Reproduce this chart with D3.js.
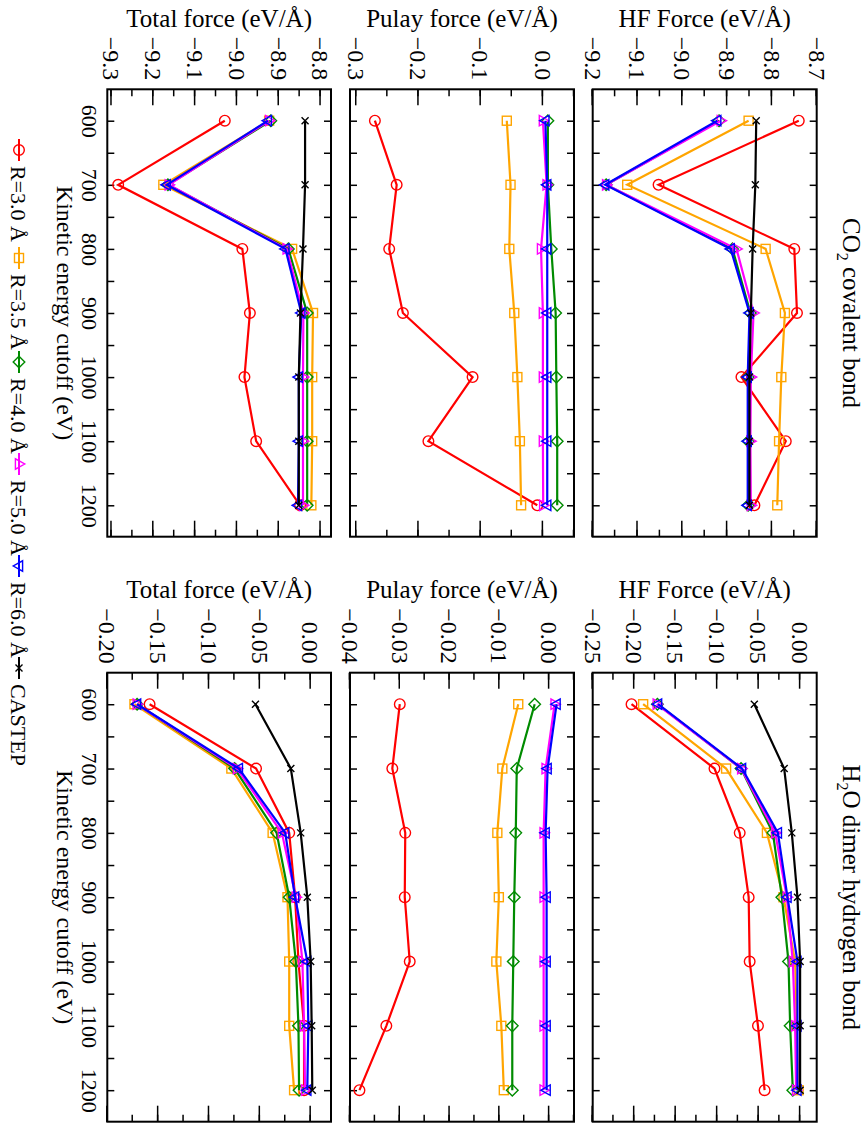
<!DOCTYPE html>
<html>
<head>
<meta charset="utf-8">
<script src="https://cdn.jsdelivr.net/npm/d3@7"></script>
<style>
  html, body { margin: 0; padding: 0; background: #fff; }
</style>
</head>
<body>
<svg id="chart" width="866" height="1124" style="font-family: 'Liberation Serif', serif;"></svg>
<script>
// kinetic energy cutoffs (eV)
var energies = [600, 700, 800, 900, 1000, 1100, 1200];
var energyTickLabels = [600, 700, 800, 900, 1000, 1100, 1200];

var seriesNames = ["R=3.0 \u00c5", "R=3.5 \u00c5", "R=4.0 \u00c5", "R=5.0 \u00c5", "R=6.0 \u00c5", "CASTEP"];
var seriesColors = ["#ff0000", "#ffa500", "#008b00", "#ff00ff", "#0000ff", "#000000"];
var seriesSymbols = ["circle", "square", "diamond", "triUp", "triDown", "cross"];

// CO2 covalent bond
var co2HfR30 = [-8.740, -9.053, -8.750, -8.744, -8.868, -8.769, -8.839];
var co2HfR35 = [-8.852, -9.123, -8.814, -8.771, -8.779, -8.784, -8.788];
var co2HfR40 = [-8.918, -9.170, -8.888, -8.848, -8.853, -8.853, -8.853];
var co2HfR50 = [-8.914, -9.170, -8.879, -8.841, -8.847, -8.848, -8.847];
var co2HfR60 = [-8.922, -9.172, -8.892, -8.850, -8.854, -8.854, -8.854];
var co2HfCastep = [-8.835, -8.837, -8.843, -8.847, -8.850, -8.850, -8.850];

var co2PulayR30 = [-0.270, -0.235, -0.247, -0.225, -0.113, -0.184, -0.009];
var co2PulayR35 = [-0.058, -0.052, -0.054, -0.046, -0.041, -0.037, -0.035];
var co2PulayR40 = [0.008, 0.008, 0.0135, 0.0205, 0.0216, 0.023, 0.023];
var co2PulayR50 = [0.000, 0.006, -0.003, 0.000, 0.000, 0.000, 0.0005];
var co2PulayR60 = [0.004, 0.007, 0.007, 0.007, 0.007, 0.007, 0.007];

var co2TotalR30 = [-9.029, -9.284, -8.987, -8.969, -8.982, -8.954, -8.849];
var co2TotalR35 = [-8.923, -9.176, -8.868, -8.818, -8.820, -8.820, -8.822];
var co2TotalR40 = [-8.919, -9.165, -8.877, -8.832, -8.832, -8.832, -8.832];
var co2TotalR50 = [-8.923, -9.163, -8.881, -8.841, -8.842, -8.842, -8.842];
var co2TotalR60 = [-8.926, -9.168, -8.884, -8.846, -8.852, -8.852, -8.854];
var co2TotalCastep = [-8.837, -8.837, -8.842, -8.848, -8.852, -8.852, -8.852];

// H2O dimer hydrogen bond
var h2oHfR30 = [-0.2032, -0.1032, -0.0728, -0.0620, -0.0608, -0.0508, -0.0428];
var h2oHfR35 = [-0.1892, -0.0892, -0.0400, -0.0200, -0.0060, -0.0040, -0.0018];
var h2oHfR40 = [-0.1720, -0.0712, -0.0328, -0.0220, -0.0140, -0.0120, -0.0088];
var h2oHfR50 = [-0.1728, -0.0710, -0.0300, -0.0160, -0.0088, -0.0060, -0.0048];
var h2oHfR60 = [-0.1712, -0.0700, -0.0268, -0.0152, -0.0032, -0.0032, -0.0032];
var h2oHfCastep = [-0.0552, -0.0192, -0.0100, -0.0032, 0.0000, 0.0000, 0.0000];

var h2oPulayR30 = [-0.0300, -0.0315, -0.0289, -0.0290, -0.0280, -0.0327, -0.0381];
var h2oPulayR35 = [-0.0062, -0.0094, -0.0104, -0.0101, -0.0106, -0.0096, -0.0091];
var h2oPulayR40 = [-0.0029, -0.0065, -0.0067, -0.0070, -0.0072, -0.0074, -0.0074];
var h2oPulayR50 = [0.0011, -0.0007, -0.0011, -0.0011, -0.0011, -0.0011, -0.0011];
var h2oPulayR60 = [0.0015, -0.0003, -0.0007, -0.0005, -0.0005, -0.0005, -0.0005];

var h2oTotalR30 = [-0.1584, -0.0537, -0.0211, -0.0153, -0.0120, -0.0065, -0.0065];
var h2oTotalR35 = [-0.1733, -0.0780, -0.0374, -0.0228, -0.0211, -0.0211, -0.0163];
var h2oTotalR40 = [-0.1707, -0.0748, -0.0335, -0.0211, -0.0146, -0.0120, -0.0114];
var h2oTotalR50 = [-0.1710, -0.0725, -0.0283, -0.0146, -0.0081, -0.0065, -0.0055];
var h2oTotalR60 = [-0.1707, -0.0706, -0.0250, -0.0153, -0.0033, -0.0023, -0.0033];
var h2oTotalCastep = [-0.0543, -0.0195, -0.0098, -0.0033, 0.0000, 0.0010, 0.0016];

// force axis tick labels
var co2HfTicks = [-9.2, -9.1, -9.0, -8.9, -8.8, -8.7];
var co2PulayTicks = [-0.3, -0.2, -0.1, 0.0];
var co2TotalTicks = [-9.3, -9.2, -9.1, -9.0, -8.9, -8.8];
var h2oHfTicks = [-0.25, -0.20, -0.15, -0.10, -0.05, 0.00];
var h2oPulayTicks = [-0.04, -0.03, -0.02, -0.01, 0.00];
var h2oTotalTicks = [-0.20, -0.15, -0.10, -0.05, 0.00];

// ---------------------------------------------------------------
// The figure is drawn in its own (landscape) frame and then turned
// 90 degrees clockwise onto the page.
var FONT = "'Liberation Serif', 'Times New Roman', serif";
var svg = d3.select("#chart");
var fig = svg.append("g").attr("transform", "translate(866,0) rotate(90)");

var columns = [
    { u0: 89.3, u1: 536.7, title: "CO", sub: "2", rest: " covalent bond", titleOffset: 62 },
    { u0: 672.7, u1: 1121.7, title: "H", sub: "2", rest: "O dimer hydrogen bond", titleOffset: 75 }
];
var rows = [
    { v0: 49.3, v1: 273.3, label: "HF Force (eV/\u00c5)" },
    { v0: 292, v1: 516, label: "Pulay force (eV/\u00c5)" },
    { v0: 535, v1: 758.7, label: "Total force (eV/\u00c5)" }
];

var panels = [
    { col: 0, row: 0, domain: [-9.2, -8.7], ticks: co2HfTicks, minor: 0.05, fmt: ".1f",
      series: [co2HfR30, co2HfR35, co2HfR40, co2HfR50, co2HfR60, co2HfCastep] },
    { col: 0, row: 1, domain: [-0.31, 0.05], ticks: co2PulayTicks, minor: 0.05, fmt: ".1f",
      series: [co2PulayR30, co2PulayR35, co2PulayR40, co2PulayR50, co2PulayR60, null] },
    { col: 0, row: 2, domain: [-9.31, -8.775], ticks: co2TotalTicks, minor: 0.05, fmt: ".1f",
      series: [co2TotalR30, co2TotalR35, co2TotalR40, co2TotalR50, co2TotalR60, co2TotalCastep] },
    { col: 1, row: 0, domain: [-0.25, 0.02], ticks: h2oHfTicks, minor: 0.025, fmt: ".2f",
      series: [h2oHfR30, h2oHfR35, h2oHfR40, h2oHfR50, h2oHfR60, h2oHfCastep] },
    { col: 1, row: 1, domain: [-0.04, 0.005], ticks: h2oPulayTicks, minor: 0.005, fmt: ".2f",
      series: [h2oPulayR30, h2oPulayR35, h2oPulayR40, h2oPulayR50, h2oPulayR60, null] },
    { col: 1, row: 2, domain: [-0.2, 0.02], ticks: h2oTotalTicks, minor: 0.025, fmt: ".2f",
      series: [h2oTotalR30, h2oTotalR35, h2oTotalR40, h2oTotalR50, h2oTotalR60, h2oTotalCastep] }
];

var energyDomain = [551, 1249];
var energyMinor = d3.range(600, 1201, 50);

// draw one marker centred on 0,0
function drawSymbol(sel, type, color) {
    var s;
    switch (type) {
        case "circle":
            s = sel.append("circle").attr("r", 5.3);
            break;
        case "square":
            s = sel.append("rect").attr("x", -4.5).attr("y", -4.5).attr("width", 9).attr("height", 9);
            break;
        case "diamond":
            s = sel.append("path").attr("d", "M0,-5.8L5.8,0L0,5.8L-5.8,0Z");
            break;
        case "triUp":
            s = sel.append("path").attr("d", "M0,-5.8L5.2,3.6L-5.2,3.6Z");
            break;
        case "triDown":
            s = sel.append("path").attr("d", "M0,5.8L5.2,-3.6L-5.2,-3.6Z");
            break;
        case "cross":
            s = sel.append("path").attr("d", "M-3.5,-3.5L3.5,3.5M-3.5,3.5L3.5,-3.5");
            break;
    }
    s.attr("fill", "none").attr("stroke", color).attr("stroke-width", 1.4);
}

function styleAxis(a) {
    a.select(".domain").remove();
    a.selectAll("line").attr("stroke", "#000").attr("stroke-width", 1.5);
    a.attr("font-family", FONT).attr("font-size", null);
    a.selectAll("text").style("font-family", FONT).attr("fill", "#000");
}

function addText(sel) {
    return sel.append("text").style("font-family", FONT).attr("fill", "#000");
}

panels.forEach(function (p) {
    var col = columns[p.col], row = rows[p.row];
    var w = col.u1 - col.u0, h = row.v1 - row.v0;
    var x = d3.scaleLinear().domain(energyDomain).range([0, w]);
    var y = d3.scaleLinear().domain(p.domain).range([h, 0]);
    var minorTicks = d3.range(p.ticks[0], p.domain[1] + 1e-9, p.minor);

    var pg = fig.append("g").attr("transform", "translate(" + col.u0 + "," + row.v0 + ")");

    // force axis, minor then major ticks, both sides
    pg.append("g").call(d3.axisLeft(y).tickValues(minorTicks).tickSize(-7).tickSizeOuter(0).tickFormat(""))
        .call(styleAxis);
    pg.append("g").attr("transform", "translate(" + w + ",0)")
        .call(d3.axisRight(y).tickValues(minorTicks).tickSize(-7).tickSizeOuter(0).tickFormat(""))
        .call(styleAxis);
    pg.append("g")
        .call(d3.axisLeft(y).tickValues(p.ticks).tickSize(-16).tickSizeOuter(0).tickPadding(9)
            .tickFormat(d3.format(p.fmt)))
        .call(styleAxis)
        .selectAll("text").style("font-size", "24px");
    pg.append("g").attr("transform", "translate(" + w + ",0)")
        .call(d3.axisRight(y).tickValues(p.ticks).tickSize(-16).tickSizeOuter(0).tickFormat(""))
        .call(styleAxis);

    // energy axis
    var bottom = d3.axisBottom(x).tickValues(energyMinor).tickSize(-7).tickSizeOuter(0).tickPadding(10);
    if (p.row === 2) {
        bottom.tickFormat(function (d) { return energyTickLabels.indexOf(d) >= 0 ? d : ""; });
    } else {
        bottom.tickFormat("");
    }
    pg.append("g").attr("transform", "translate(0," + h + ")").call(bottom).call(styleAxis)
        .selectAll("text").style("font-size", "22px");
    pg.append("g").call(d3.axisTop(x).tickValues(energyMinor).tickSize(-7).tickSizeOuter(0).tickFormat(""))
        .call(styleAxis);

    pg.append("rect").attr("width", w).attr("height", h)
        .attr("fill", "none").attr("stroke", "#000").attr("stroke-width", 2);

    // force axis title
    addText(pg)
        .attr("transform", "translate(" + (-col.titleOffset) + "," + (h / 2) + ") rotate(-90)")
        .attr("text-anchor", "middle")
        .style("font-size", "25px")
        .text(row.label);

    // series
    var line = d3.line().x(function (d) { return x(d[0]); }).y(function (d) { return y(d[1]); });
    p.series.forEach(function (vals, i) {
        if (!vals) { return; }
        var pts = energies.map(function (e, k) { return [e, vals[k]]; });
        pg.append("path").datum(pts).attr("d", line)
            .attr("fill", "none").attr("stroke", seriesColors[i]).attr("stroke-width", 2.2);
        pts.forEach(function (d) {
            var m = pg.append("g").attr("transform", "translate(" + x(d[0]) + "," + y(d[1]) + ")");
            drawSymbol(m, seriesSymbols[i], seriesColors[i]);
        });
    });
});

// column titles and energy axis titles
columns.forEach(function (col) {
    var mid = (col.u0 + col.u1) / 2;
    var t = addText(fig).attr("x", mid).attr("y", 23)
        .attr("text-anchor", "middle").style("font-size", "25px");
    t.append("tspan").text(col.title);
    t.append("tspan").attr("dy", 6).style("font-size", "16px").text(col.sub);
    t.append("tspan").attr("dy", -6).text(col.rest);

    addText(fig).attr("x", mid).attr("y", 809)
        .attr("text-anchor", "middle").style("font-size", "24px")
        .text("Kinetic energy cutoff (eV)");
});

// legend (marker centres along the bottom edge)
var legendPos = [150, 258, 362, 464, 566, 668];
seriesNames.forEach(function (name, i) {
    var lg = fig.append("g").attr("transform", "translate(" + legendPos[i] + ",847)");
    lg.append("line").attr("x1", -11).attr("x2", 11).attr("stroke", seriesColors[i]).attr("stroke-width", 2);
    drawSymbol(lg, seriesSymbols[i], seriesColors[i]);
    addText(lg).attr("x", 16).attr("y", 8).style("font-size", "22px").text(name);
});
</script>
</body>
</html>
